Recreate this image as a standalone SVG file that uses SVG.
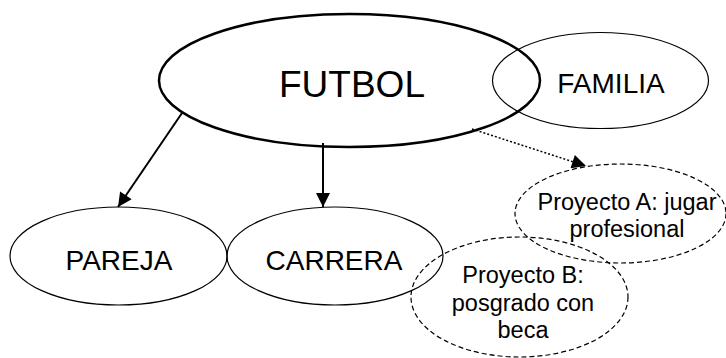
<svg xmlns="http://www.w3.org/2000/svg" width="726" height="358" viewBox="0 0 726 358">
<style>
.n{fill:none;stroke:#000;stroke-width:1.2}
.b{fill:none;stroke:#000;stroke-width:2.5}
.d{fill:none;stroke:#000;stroke-width:1.2;stroke-dasharray:5,3}
.t{font-family:"Liberation Sans",Arial,sans-serif;fill:#000;text-anchor:middle}
.c{fill:none;stroke:#000;stroke-width:2}
</style>
<defs>
<marker id="ah" viewBox="0 0 10 10" refX="10" refY="5" markerUnits="userSpaceOnUse" markerWidth="16" markerHeight="14" orient="auto">
<path d="M0,0 L10,5 L0,10 z" fill="#000"/>
</marker>
</defs>
<rect width="726" height="358" fill="#fff"/>
<g id="familia">
<ellipse class="n" cx="600.5" cy="80.5" rx="108" ry="48"/>
<text class="t" x="611" y="93" font-size="28">FAMILIA</text>
</g>
<g id="futbol">
<ellipse class="b" cx="349.5" cy="80.5" rx="190.5" ry="66.5"/>
<text class="t" x="352" y="97" font-size="37">FUTBOL</text>
</g>
<g id="pareja">
<ellipse class="n" cx="118.5" cy="256" rx="108.5" ry="49"/>
<text class="t" x="119" y="270" font-size="28">PAREJA</text>
</g>
<g id="carrera">
<ellipse class="n" cx="335" cy="256" rx="108" ry="49"/>
<text class="t" x="334" y="270" font-size="28">CARRERA</text>
</g>
<g id="proyectoA">
<ellipse class="d" cx="620.5" cy="213.5" rx="105.5" ry="49.5"/>
<text class="t" x="627" y="210" font-size="23.5">Proyecto A: jugar</text>
<text class="t" x="627" y="237" font-size="23.5">profesional</text>
</g>
<g id="proyectoB">
<ellipse class="d" cx="519.5" cy="297" rx="108.5" ry="60"/>
<text class="t" x="523" y="283" font-size="23.5">Proyecto B:</text>
<text class="t" x="523" y="311" font-size="23.5">posgrado con</text>
<text class="t" x="523" y="338" font-size="23.5">beca</text>
</g>
<g id="connectors">
<path class="c" d="M182,113 L118,207" marker-end="url(#ah)"/>
<path class="c" d="M323,143 L323,207" marker-end="url(#ah)"/>
<path d="M472,129 L586,166" fill="none" stroke="#000" stroke-width="1.5" stroke-dasharray="2,2" marker-end="url(#ah)"/>
</g>
</svg>
